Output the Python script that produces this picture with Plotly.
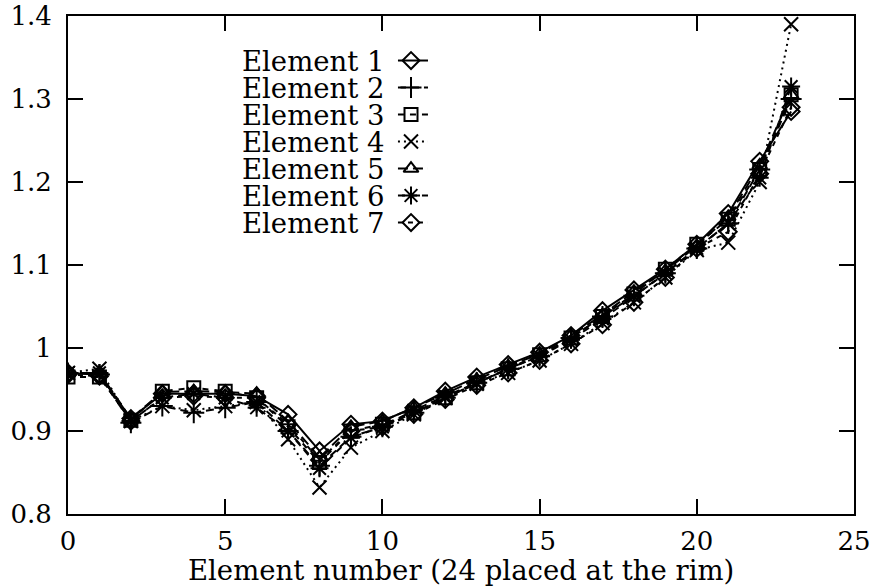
import plotly.graph_objects as go

# Element index along the row (24 elements, element 24 at the rim)
element_index = list(range(24))

e1 = [0.970, 0.968, 0.915, 0.945, 0.945, 0.945, 0.942, 0.920, 0.876, 0.908, 0.912, 0.928,
      0.948, 0.965, 0.980, 0.995, 1.015, 1.045, 1.070, 1.095, 1.125, 1.162, 1.225, 1.285]
e2 = [0.970, 0.968, 0.910, 0.930, 0.922, 0.928, 0.935, 0.900, 0.858, 0.893, 0.905, 0.922,
      0.940, 0.958, 0.975, 0.990, 1.012, 1.038, 1.063, 1.090, 1.120, 1.150, 1.215, 1.300]
e3 = [0.965, 0.965, 0.913, 0.948, 0.952, 0.948, 0.940, 0.905, 0.862, 0.900, 0.908, 0.922,
      0.940, 0.958, 0.975, 0.992, 1.012, 1.038, 1.065, 1.095, 1.125, 1.155, 1.215, 1.305]
e4 = [0.970, 0.975, 0.912, 0.930, 0.925, 0.930, 0.935, 0.890, 0.832, 0.880, 0.900, 0.920,
      0.940, 0.957, 0.970, 0.985, 1.005, 1.030, 1.055, 1.085, 1.118, 1.127, 1.200, 1.390]
e5 = [0.970, 0.970, 0.915, 0.947, 0.948, 0.947, 0.945, 0.912, 0.868, 0.905, 0.912, 0.928,
      0.945, 0.962, 0.978, 0.993, 1.015, 1.040, 1.068, 1.093, 1.123, 1.158, 1.220, 1.305]
e6 = [0.970, 0.970, 0.912, 0.940, 0.945, 0.940, 0.928, 0.900, 0.855, 0.892, 0.905, 0.925,
      0.942, 0.958, 0.975, 0.990, 1.010, 1.035, 1.062, 1.090, 1.120, 1.150, 1.205, 1.315]
e7 = [0.968, 0.966, 0.912, 0.940, 0.942, 0.940, 0.940, 0.908, 0.865, 0.900, 0.905, 0.920,
      0.938, 0.955, 0.970, 0.985, 1.005, 1.028, 1.055, 1.085, 1.120, 1.140, 1.210, 1.290]

series_names = ["Element 1", "Element 2", "Element 3", "Element 4",
                "Element 5", "Element 6", "Element 7"]
series_values = [e1, e2, e3, e4, e5, e6, e7]
symbols = ["diamond-open", "cross-thin-open", "square-open", "x-thin-open",
           "triangle-up-open", "asterisk-open", "diamond-open"]
dashes = ["solid", "8px,5px", "6px,6px", "2px,4px", "10px,5px", "7px,5px", "5px,5px"]
marker_sizes = [13, 15, 13, 14, 13, 15, 13]

x_ticks = [0, 5, 10, 15, 20, 25]
y_ticks = [0.8, 0.9, 1.0, 1.1, 1.2, 1.3, 1.4]
y_tick_text = ["0.8", "0.9", "1", "1.1", "1.2", "1.3", "1.4"]
x_title = "Element number (24 placed at the rim)"

FONT = "DejaVu Serif"
KEY_FONT_PX = 27.5
ROW_PITCH_PX = 27.0
PLOT_H_PX = 498.0

fig = go.Figure()

for name, vals, sym, dash, ms in zip(series_names, series_values, symbols, dashes, marker_sizes):
    fig.add_trace(go.Scatter(
        x=element_index, y=vals, mode="lines+markers", name=name,
        line=dict(color="black", width=2, dash=dash),
        marker=dict(symbol=sym, size=ms, color="black",
                    line=dict(color="black", width=2)),
        showlegend=False,
    ))

# Hand-built key: right-aligned names (one text block, tight line pitch)
# followed by a line sample with the series marker.
row_top = 0.9106
row_step = ROW_PITCH_PX / PLOT_H_PX
n_rows = len(series_names)
block_center = row_top - row_step * (n_rows - 1) / 2
key_text = "<br>".join(
    f'<span style="font-size:{KEY_FONT_PX}px">{n}</span>' for n in series_names)
fig.add_annotation(x=0.405, y=block_center, xref="paper", yref="paper", text=key_text,
                   showarrow=False, xanchor="right", yanchor="middle", align="right",
                   borderpad=0,
                   font=dict(family=FONT, size=ROW_PITCH_PX / 1.3, color="black"))

for i, (sym, dash, ms) in enumerate(zip(symbols, dashes, marker_sizes)):
    yk = row_top - i * row_step
    fig.add_trace(go.Scatter(
        x=[0.4198, 0.4364, 0.458], y=[yk, yk, yk], xaxis="x2", yaxis="y2",
        mode="lines", line=dict(color="black", width=2, dash=dash),
        showlegend=False, hoverinfo="skip"))
    fig.add_trace(go.Scatter(
        x=[0.4364], y=[yk], xaxis="x2", yaxis="y2", mode="markers",
        marker=dict(symbol=sym, size=ms, color="black",
                    line=dict(color="black", width=2)),
        showlegend=False, hoverinfo="skip"))

# x-axis title, placed just under the tick labels
fig.add_annotation(x=0.5, y=-0.1124, xref="paper", yref="paper", text=x_title,
                   showarrow=False, xanchor="center", yanchor="middle", borderpad=0,
                   font=dict(family=FONT, size=27.5, color="black"))

axis_common = dict(
    showline=True, linecolor="black", linewidth=2, mirror="allticks",
    ticks="inside", ticklen=15, tickwidth=2, tickcolor="black",
    showgrid=False, zeroline=False, automargin=False,
    tickfont=dict(family=FONT, size=26, color="black"),
)

fig.update_layout(
    width=876, height=587,
    margin=dict(l=68, r=22, t=16, b=73, autoexpand=False),
    paper_bgcolor="white", plot_bgcolor="white",
    xaxis=dict(range=[0, 25], tickvals=x_ticks, ticklabelstandoff=3, **axis_common),
    yaxis=dict(range=[0.8, 1.4], tickvals=y_ticks, ticktext=y_tick_text,
               ticklabelstandoff=9, **axis_common),
    xaxis2=dict(range=[0, 1], overlaying="x", visible=False),
    yaxis2=dict(range=[0, 1], overlaying="y", visible=False),
    showlegend=False,
)

fig.write_html("out.html")
